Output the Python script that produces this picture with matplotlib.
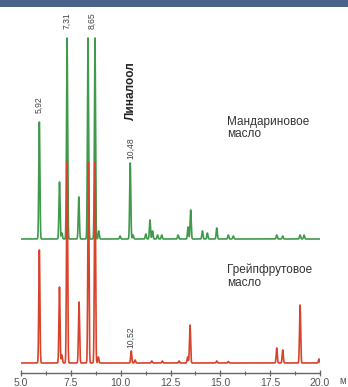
import numpy as np
import matplotlib
matplotlib.use("Agg")
import matplotlib.pyplot as plt
from matplotlib.patches import Rectangle

plt.rcParams['font.family'] = ['Liberation Sans', 'DejaVu Sans']

# Retention times (min) and peak heights (arbitrary units)
green_times = [5.92, 6.93, 7.05, 7.31, 7.90, 8.36, 8.71, 8.90, 9.97, 10.48, 10.62,
               11.26, 11.47, 11.60, 11.85, 12.06, 12.88, 13.38, 13.51, 14.10, 14.35,
               14.82, 15.40, 15.65, 17.83, 18.13, 19.00, 19.20]
green_heights = [117, 57, 6, 201, 42, 201, 201, 8, 3, 76, 4,
                 5, 19, 8, 4, 4, 4, 12, 29, 8, 6,
                 11, 4, 3, 4, 3, 4, 4]

red_times = [5.92, 6.93, 7.05, 7.31, 7.91, 8.38, 8.71, 8.88, 10.53, 10.72,
             11.56, 12.09, 12.93, 13.36, 13.48, 14.82, 15.40, 17.83, 18.13, 19.00, 19.95]
red_heights = [113, 76, 8, 201, 61, 201, 201, 6, 12, 3,
               2, 2, 2, 6, 38, 2, 1.5, 15, 13, 58, 4]

green_offset = 134
red_offset = 10
clip_top = 201

peak_labels = [("5,92", 5.92, 268), ("7,31", 7.31, 352), ("8,65", 8.58, 352),
               ("10,48", 10.48, 225)]
red_label = ("10,52", 10.52, 36)
compound = "Линалоол"
green_name = "Мандариновое\nмасло"
red_name = "Грейпфрутовое\nмасло"
x_ticks = [5.0, 7.5, 10.0, 12.5, 15.0, 17.5, 20.0]
unit_label = "м"

t = np.linspace(5.0, 20.0, 6001)

def trace(times, heights, width=0.028):
    s = np.zeros_like(t)
    for tc, h in zip(times, heights):
        s += h * np.exp(-0.5 * ((t - tc) / width) ** 2)
    return np.minimum(s, clip_top)

W, H = 348, 387
fig = plt.figure(figsize=(W / 100, H / 100), dpi=100)
fig.patch.set_facecolor('white')
fig.patches.append(Rectangle((0, 1 - 7 / H), 1, 7 / H, transform=fig.transFigure,
                             facecolor='#4a6489', edgecolor='none'))

ax = fig.add_axes([21 / W, 14 / H, 299 / W, 367 / H])
ax.set_xlim(5.0, 20.0)
ax.set_ylim(0, 367)
ax.patch.set_alpha(0)

green_col = '#3f9a4c'
red_col = '#d8432c'
ax.plot(t, trace(green_times, green_heights) + green_offset, color=green_col, lw=1.2, zorder=2)
ax.plot(t, trace(red_times, red_heights) + red_offset, color=red_col, lw=1.2, zorder=3)

for s in ['top', 'right', 'left']:
    ax.spines[s].set_visible(False)
ax.spines['bottom'].set_color('#666666')
ax.spines['bottom'].set_linewidth(1.0)
ax.set_yticks([])
ax.set_xticks(x_ticks)
ax.set_xticklabels([f"{v:.1f}" for v in x_ticks])
ax.set_xticks(np.arange(5.0, 20.01, 1.25), minor=True)
ax.tick_params(axis='x', which='major', direction='inout', length=5, width=0.9,
               color='#666666', labelsize=7.5, labelcolor='#555555', pad=1)
ax.tick_params(axis='x', which='minor', direction='inout', length=3, width=0.8,
               color='#666666')
ax.text(20.95, -7.5, unit_label, fontsize=7, color='#555555', va='center', ha='left',
        clip_on=False)

for lab, x, y in peak_labels:
    ax.text(x, y, lab, rotation=90, ha='center', va='center', fontsize=6.2,
            color='#444444')
lab, x, y = red_label
ax.text(x, y, lab, rotation=90, ha='center', va='center', fontsize=6.2, color='#444444')
ax.text(10.5, 282, compound, rotation=90, ha='center', va='center', fontsize=8.5,
        fontweight='bold', color='#222222')

ax.text(15.35, 245, green_name, ha='left', va='center', fontsize=8.5,
        color='#333333', linespacing=1.1)
ax.text(15.35, 97, red_name, ha='left', va='center', fontsize=8.5,
        color='#333333', linespacing=1.1)

fig.savefig("out.png", dpi=100)
